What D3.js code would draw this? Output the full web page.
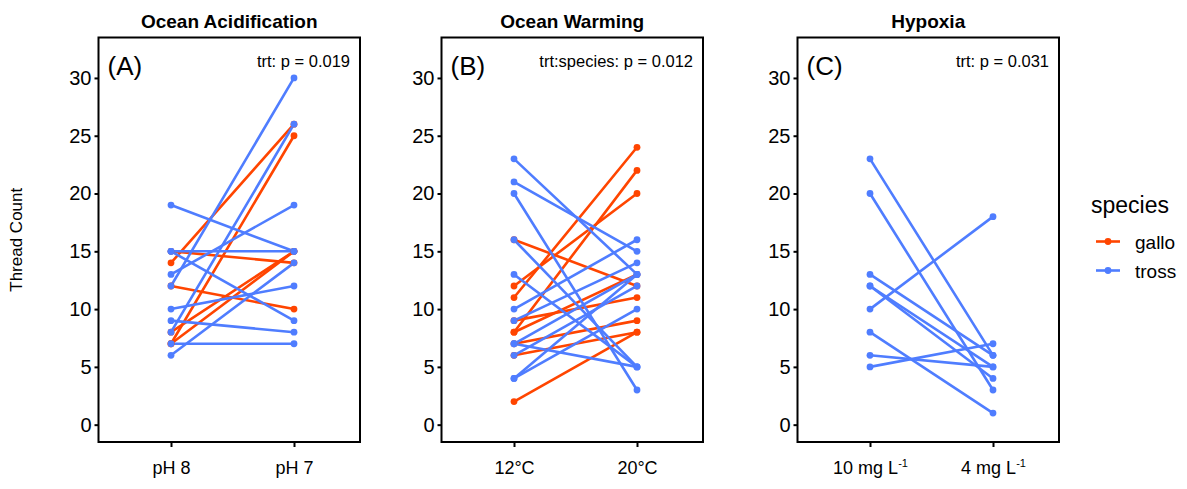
<!DOCTYPE html>
<html>
<head>
<meta charset="utf-8">
<script src="https://cdn.jsdelivr.net/npm/d3@7"></script>
<style>
  html, body { margin: 0; padding: 0; background: #fff; }
  svg { display: block; font-family: "Liberation Sans", Arial, sans-serif; }
</style>
</head>
<body>
<svg id="chart" width="1187" height="489"></svg>
<script>
// ---------------- data ----------------
const panelTitles = ["Ocean Acidification", "Ocean Warming", "Hypoxia"];
const panelTags = ["(A)", "(B)", "(C)"];
const panelStats = ["trt: p = 0.019", "trt:species: p = 0.012", "trt: p = 0.031"];

const oaLevels = ["pH 8", "pH 7"];
const owLevels = ["12°C", "20°C"];
const hyLevels = ["10 mg L^-1", "4 mg L^-1"];

const yTicks = [0, 5, 10, 15, 20, 25, 30];
const species = ["gallo", "tross"];
const speciesColors = ["#FF4500", "#4F7DFF"];

// paired thread counts [first level, second level]
const oaGallo = [[14, 26], [7, 25], [15, 14], [12, 10], [8, 15], [7, 15]];
const oaTross = [[19, 15], [15, 15], [15, 9], [13, 19], [12, 30], [8, 26], [10, 12], [9, 8], [7, 7], [6, 14]];

const owGallo = [[11, 24], [8, 22], [12, 20], [16, 12], [2, 8], [6, 8], [7, 9], [9, 11], [8, 13]];
const owTross = [[23, 13], [21, 15], [20, 3], [16, 5], [13, 5], [10, 16], [9, 14], [7, 5], [7, 13], [6, 12], [4, 13], [4, 10]];

const hyGallo = [];
const hyTross = [[23, 6], [20, 3], [13, 6], [12, 5], [12, 4], [10, 18], [8, 1], [6, 5], [5, 7]];

// ---------------- layout ----------------
const svg = d3.select("#chart");
const panelLeft = [98.5, 441.5, 797.5];
const padLeft = 72.5, stepW = 123, padRight = 66;
const panelTop = 37.5, panelBottom = 442;

const y = d3.scaleLinear().domain([-1.5, 33.5]).range([panelBottom, panelTop]);
const color = d3.scaleOrdinal().domain(species).range(speciesColors);

const panels = [
  { levels: oaLevels, series: [["gallo", oaGallo], ["tross", oaTross]] },
  { levels: owLevels, series: [["gallo", owGallo], ["tross", owTross]] },
  { levels: hyLevels, series: [["gallo", hyGallo], ["tross", hyTross]] }
];

function setLabel(sel, txt) {
  // supports "^" superscript suffix, e.g. "10 mg L^-1"
  const parts = txt.split("^");
  sel.text(null);
  sel.append("tspan").text(parts[0]);
  if (parts.length > 1) {
    sel.append("tspan").attr("dy", -7).attr("font-size", "11px").text(parts[1]);
  }
}

panels.forEach((p, i) => {
  const left = panelLeft[i];
  const x0 = left + padLeft, x1 = x0 + stepW;
  const right = x1 + padRight;
  const x = d3.scalePoint().domain(p.levels).range([x0, x1]).padding(0);
  const g = svg.append("g");

  // title
  g.append("text")
    .attr("x", (left + right) / 2).attr("y", 28)
    .attr("text-anchor", "middle")
    .attr("font-size", "19px").attr("font-weight", "bold")
    .text(panelTitles[i]);

  // y axis
  const yAxis = d3.axisLeft(y).tickValues(yTicks).tickSize(4).tickPadding(3);
  const ya = g.append("g").attr("transform", `translate(${left},0)`).call(yAxis);
  ya.select(".domain").remove();
  ya.selectAll(".tick line").attr("stroke", "#000").attr("stroke-width", 2);
  ya.selectAll(".tick text").attr("font-size", "20px").attr("fill", "#000")
    .attr("font-family", "'Liberation Sans', Arial, sans-serif");

  // x axis
  const xAxis = d3.axisBottom(x).tickSize(5).tickPadding(0);
  const xa = g.append("g").attr("transform", `translate(0,${panelBottom})`).call(xAxis);
  xa.select(".domain").remove();
  xa.selectAll(".tick line").attr("stroke", "#000").attr("stroke-width", 2);
  xa.selectAll(".tick text")
    .attr("font-size", "18px").attr("fill", "#000")
    .attr("font-family", "'Liberation Sans', Arial, sans-serif")
    .attr("dy", null).attr("y", 32)
    .each(function(d) { setLabel(d3.select(this), d); });

  // lines
  const lineGen = d3.line().x(d => x(d[0])).y(d => y(d[1]));
  p.series.forEach(([sp, pairs]) => {
    g.append("g").selectAll("path").data(pairs).join("path")
      .attr("d", pr => lineGen([[p.levels[0], pr[0]], [p.levels[1], pr[1]]]))
      .attr("fill", "none")
      .attr("stroke", color(sp))
      .attr("stroke-width", 2.6)
      .attr("stroke-linecap", "round");
  });
  // points
  p.series.forEach(([sp, pairs]) => {
    const pts = [];
    pairs.forEach(pr => { pts.push([p.levels[0], pr[0]]); pts.push([p.levels[1], pr[1]]); });
    g.append("g").selectAll("circle").data(pts).join("circle")
      .attr("cx", d => x(d[0])).attr("cy", d => y(d[1]))
      .attr("r", 3.4).attr("fill", color(sp));
  });

  // panel border
  g.append("rect")
    .attr("x", left).attr("y", panelTop)
    .attr("width", right - left).attr("height", panelBottom - panelTop)
    .attr("fill", "none").attr("stroke", "#000").attr("stroke-width", 2);

  // tag
  g.append("text")
    .attr("x", left + 9).attr("y", 75)
    .attr("font-size", "26px")
    .text(panelTags[i]);

  // stats
  g.append("text")
    .attr("x", right - 10).attr("y", 67)
    .attr("text-anchor", "end")
    .attr("font-size", "16.5px")
    .text(panelStats[i]);
});

// y axis title
svg.append("text")
  .attr("transform", `translate(22,${(panelTop + panelBottom) / 2}) rotate(-90)`)
  .attr("text-anchor", "middle")
  .attr("font-size", "17px")
  .text("Thread Count");

// legend
const lg = svg.append("g");
lg.append("text").attr("x", 1091).attr("y", 213).attr("font-size", "23px").text("species");
species.forEach((sp, k) => {
  const ky = 241.5 + k * 29;
  lg.append("line").attr("x1", 1096).attr("x2", 1120).attr("y1", ky).attr("y2", ky)
    .attr("stroke", color(sp)).attr("stroke-width", 2.6);
  lg.append("circle").attr("cx", 1108).attr("cy", ky).attr("r", 3.4).attr("fill", color(sp));
  lg.append("text").attr("x", 1135).attr("y", ky + 7.5).attr("font-size", "19px").text(sp);
});
</script>
</body>
</html>
